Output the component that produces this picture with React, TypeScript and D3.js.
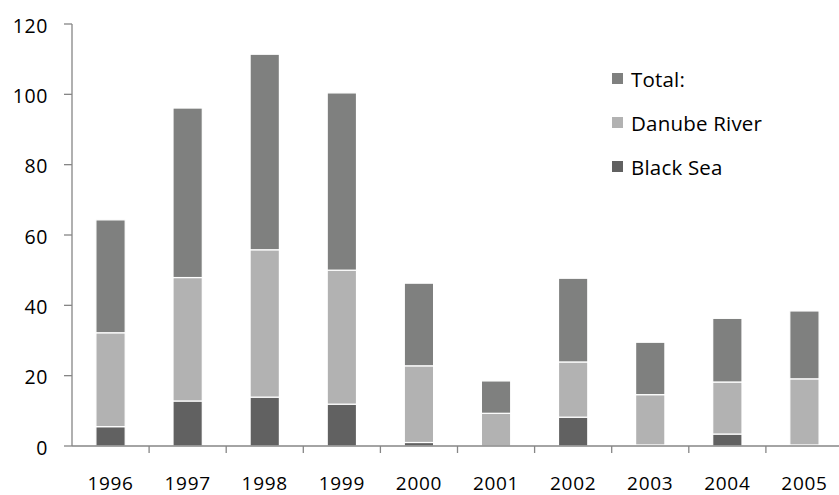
import React from "react";
import * as d3 from "d3";

const years = ["1996", "1997", "1998", "1999", "2000", "2001", "2002", "2003", "2004", "2005"];
const blackSea = [5.5, 12.8, 13.9, 11.9, 1.0, 0, 8.2, 0.3, 3.4, 0.3];
const danubeRiver = [26.7, 35.1, 41.9, 38.1, 21.8, 9.3, 15.7, 14.3, 14.8, 18.8];
const total = [32.1, 48.2, 55.6, 50.4, 23.5, 9.2, 23.8, 14.9, 18.1, 19.3];
const yTicks = [0, 20, 40, 60, 80, 100, 120];

const seriesNames = ["Black Sea", "Danube River", "Total:"];
const colors = ["#616161", "#b2b2b2", "#7f807f"];

const W = 839;
const H = 495;
const FONT = "'Open Sans', sans-serif";

export default function App() {
  const x0 = 72;
  const y0 = 446;

  const x = d3.scaleBand<string>().domain(years).range([x0, x0 + 771]).paddingInner(0).paddingOuter(0);
  const y = d3.scaleLinear().domain([0, 120]).range([y0, 24]);

  const rows = years.map((yr, i) => ({
    year: yr,
    "Black Sea": blackSea[i],
    "Danube River": danubeRiver[i],
    "Total:": total[i],
  }));
  const stacked = d3.stack<any>().keys(seriesNames)(rows);

  const barW = x.bandwidth() * 0.38;

  return (
    <svg
      width={W}
      height={H}
      style={{ position: "absolute", left: 0, top: 0, background: "#fff" }}
      fontFamily={FONT}
    >
      {/* bars */}
      {stacked.map((s, si) => (
        <g key={s.key} fill={colors[si]}>
          {s.map((d, i) => {
            const h = y(d[0]) - y(d[1]);
            if (h <= 0) return null;
            const cx = (x(years[i]) as number) + x.bandwidth() / 2;
            return (
              <rect
                key={i}
                x={cx - barW / 2}
                y={y(d[1])}
                width={barW}
                height={h}
                stroke="#fff"
                strokeWidth={1.2}
              />
            );
          })}
        </g>
      ))}

      {/* y axis */}
      <line x1={x0} x2={x0} y1={y(120)} y2={y0} stroke="#868686" strokeWidth={1.3} />
      {yTicks.map((t) => (
        <g key={t}>
          <line x1={x0 - 8} x2={x0} y1={y(t)} y2={y(t)} stroke="#868686" strokeWidth={1.3} />
          <text x={48} y={y(t) + 8.5} textAnchor="end" fontSize={19.5} letterSpacing={0.6} fill="#000">
            {t}
          </text>
        </g>
      ))}

      {/* x axis */}
      <line x1={x0} x2={W} y1={y0} y2={y0} stroke="#868686" strokeWidth={1.3} />
      {years.map((yr, i) => {
        const bx = x(yr) as number;
        return (
          <g key={yr}>
            {i > 0 && <line x1={bx} x2={bx} y1={y0} y2={y0 + 7} stroke="#868686" strokeWidth={1.3} />}
            <text x={bx + x.bandwidth() / 2} y={489.5} textAnchor="middle" fontSize={19} letterSpacing={0.7} fill="#000">
              {yr}
            </text>
          </g>
        );
      })}

      {/* legend */}
      {[2, 1, 0].map((si, k) => (
        <g key={si} transform={`translate(612, ${73 + k * 44})`}>
          <rect x={0} y={0} width={11} height={11} fill={colors[si]} />
          <text x={19} y={14} fontSize={20.5} letterSpacing={0.2} fill="#000">
            {seriesNames[si]}
          </text>
        </g>
      ))}
    </svg>
  );
}
